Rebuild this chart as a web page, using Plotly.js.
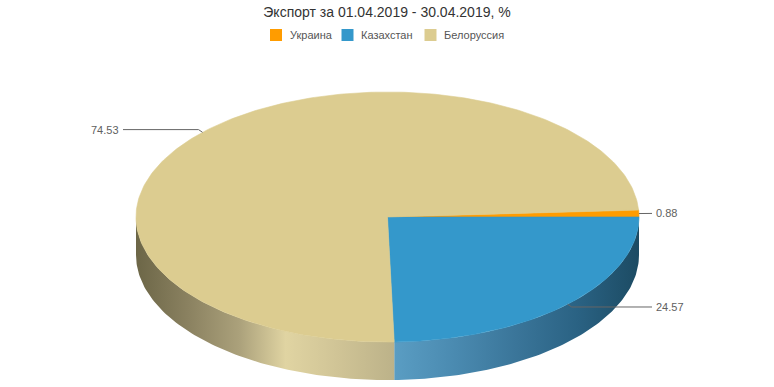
<!DOCTYPE html>
<html>
<head>
<meta charset="utf-8">
<script src="https://cdn.plot.ly/plotly-3.0.1.min.js"></script>
<style>html,body{margin:0;padding:0;background:#fff;}#chart{width:774px;height:387px;}</style>
</head>
<body>
<div id="chart"></div>
<script>
// ---- data ----
const categories = ['Украина', 'Казахстан', 'Белоруссия'];
const values = [0.88, 24.57, 74.53];
const labels = ['0.88', '24.57', '74.53'];
const titleText = 'Экспорт за 01.04.2019 - 30.04.2019, %';

// ---- style ----
const topColors = ['#FF9C00', '#3498CB', '#DCCC90'];
const wallScales = [
  [[0, '#B86F00'], [1, '#804D00']],
  [[0, '#5A9DC3'], [0.25, '#4A8AB0'], [0.5, '#3A7599'], [0.75, '#2A6283'], [1, '#1C4B63']],
  [[0, '#6C6647'], [0.2, '#8A8160'], [0.4, '#ABA17B'], [0.58, '#E0D4A2'], [0.78, '#D0C496'], [1, '#BCB289']]
];
const W = 774, H = 387;
const CX = 387.5, CY = 217, RX = 251.5, RY = 125, DEPTH = 38;
const START_DEG = -3.17;
const LABEL_R = 129, LABEL_GAP = 13;

const total = values.reduce((a, b) => a + b, 0);
const rad = d => d * Math.PI / 180;
function pt(deg, dy) {
  return [CX + RX * Math.cos(rad(deg)), CY + RY * Math.sin(rad(deg)) + (dy || 0)];
}
function arc(a, b, dy) {
  const n = Math.max(2, Math.ceil(Math.abs(b - a) / 1));
  const xs = [], ys = [];
  for (let i = 0; i <= n; i++) {
    const p = pt(a + (b - a) * i / n, dy);
    xs.push(p[0]); ys.push(p[1]);
  }
  return [xs, ys];
}

// slice angles
const slices = [];
let acc = START_DEG;
values.forEach((v, i) => {
  const span = v / total * 360;
  slices.push({a: acc, b: acc + span, mid: acc + span / 2});
  acc += span;
});

const traces = [];
// walls (front half: 0..180 deg)
slices.forEach((s, i) => {
  const a = Math.max(s.a, 0), b = Math.min(s.b, 180);
  if (b <= a) return;
  const top = arc(a, b, 0);
  const bot = arc(b, a, DEPTH);
  traces.push({
    type: 'scatter', mode: 'lines',
    x: top[0].concat(bot[0]), y: top[1].concat(bot[1]),
    fill: 'toself', line: {width: 0},
    fillgradient: {type: 'horizontal', colorscale: wallScales[i]},
    hoverinfo: 'skip', showlegend: false
  });
});
// top faces
slices.forEach((s, i) => {
  const t = arc(s.a, s.b, 0);
  traces.push({
    type: 'scatter', mode: 'lines',
    x: [CX].concat(t[0], [CX]), y: [CY].concat(t[1], [CY]),
    fill: 'toself', fillcolor: topColors[i],
    line: {width: 0.6, color: topColors[i]},
    name: categories[i], text: labels[i], hoverinfo: 'name+text', showlegend: false
  });
});

// connectors + labels
const annotations = [];
slices.forEach((s, i) => {
  const p = pt(s.mid, 0);
  const right = Math.cos(rad(s.mid)) >= 0;
  const ly = CY + LABEL_R * Math.sin(rad(s.mid));
  const lx = right ? CX + RX + LABEL_GAP : CX - RX - LABEL_GAP;
  const kx = p[0] + (right ? 4 : -4);
  traces.push({
    type: 'scatter', mode: 'lines',
    x: [p[0], kx, lx], y: [p[1], ly, ly],
    line: {color: '#666666', width: 1},
    hoverinfo: 'skip', showlegend: false
  });
  annotations.push({
    x: right ? lx + 2 : lx - 2, y: ly, xref: 'x', yref: 'y',
    text: labels[i], showarrow: false,
    xanchor: right ? 'left' : 'right', yanchor: 'middle',
    font: {family: 'Liberation Sans, Arial, sans-serif', size: 11, color: '#606060'}
  });
});

// legend (drawn)
const legendX = [270, 341.5, 424.5];
const shapes = [];
categories.forEach((c, i) => {
  shapes.push({type: 'rect', xref: 'x', yref: 'y',
    x0: legendX[i], x1: legendX[i] + 12, y0: 29, y1: 41,
    fillcolor: topColors[i], line: {width: 0}});
  annotations.push({x: legendX[i] + 17.5, y: 35, xref: 'x', yref: 'y',
    text: c, showarrow: false, xanchor: 'left', yanchor: 'middle',
    font: {family: 'Liberation Sans, Arial, sans-serif', size: 11, color: '#555555'}});
});

const layout = {
  width: W, height: H,
  margin: {l: 0, r: 0, t: 0, b: 0},
  paper_bgcolor: '#ffffff', plot_bgcolor: '#ffffff',
  title: {text: titleText, x: 0.5, xanchor: 'center', y: 0.968, yanchor: 'middle',
    font: {family: 'Liberation Sans, Arial, sans-serif', size: 14, color: '#333333'}},
  xaxis: {range: [0, W], visible: false, fixedrange: true},
  yaxis: {range: [H, 0], visible: false, fixedrange: true},
  showlegend: false,
  shapes: shapes,
  annotations: annotations
};

Plotly.newPlot('chart', traces, layout, {displayModeBar: false, staticPlot: true});
</script>
</body>
</html>
